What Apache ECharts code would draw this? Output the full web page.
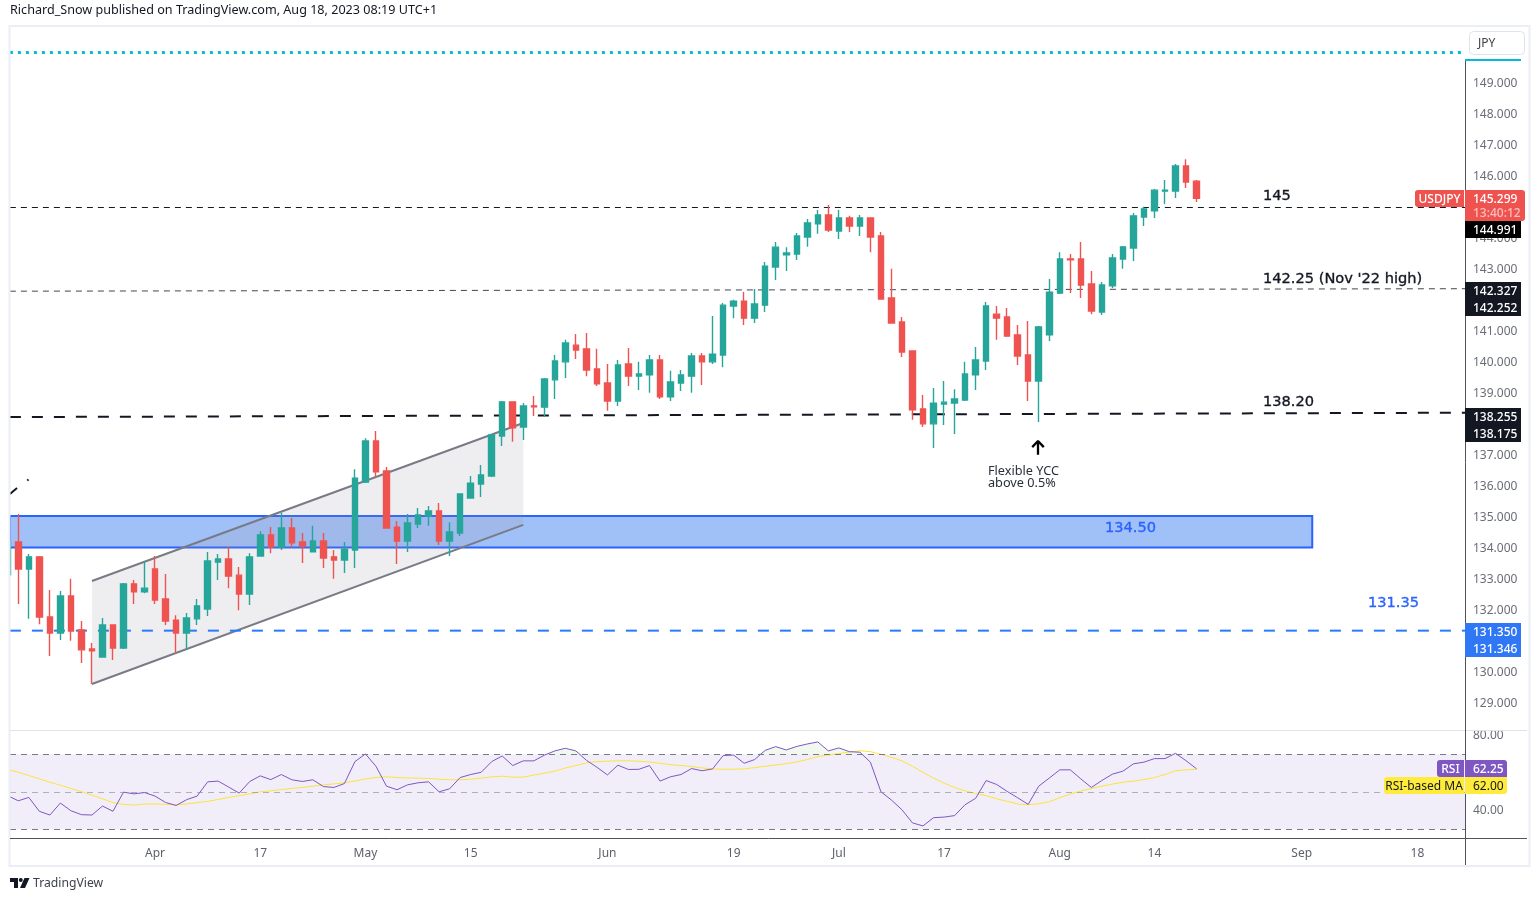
<!DOCTYPE html>
<html>
<head>
<meta charset="utf-8">
<title>USDJPY</title>
<style>
html, body { margin: 0; padding: 0; background: #fff; }
#main { width: 1539px; height: 901px; }
</style>
<script src="https://cdn.jsdelivr.net/npm/echarts@6/dist/echarts.min.js"></script>
</head>
<body>
<div id="main"></div>
<script>
// daily candles, first one is cut off by the left edge of the pane
const opens = [133.15,134.21,133.34,133.73,131.79,131.27,132.47,131.37,130.76,130.50,131.53,130.79,132.86,132.60,133.34,132.37,131.69,131.27,131.73,132.05,133.56,133.66,133.14,132.53,133.76,134.44,134.05,134.66,134.21,133.89,134.24,133.73,133.63,133.95,136.14,137.47,136.50,134.69,134.24,134.79,135.05,135.21,134.24,134.50,135.63,136.08,136.34,137.63,138.73,137.92,138.60,138.56,139.44,140.02,140.56,140.44,139.79,139.34,138.76,139.95,139.56,139.60,140.08,138.89,139.34,139.56,140.21,140.02,140.24,141.82,141.98,141.43,141.85,143.08,143.47,143.50,144.05,144.47,144.76,144.24,144.66,144.40,144.66,144.08,142.08,141.31,140.37,138.50,138.02,138.66,138.69,138.79,139.60,140.05,141.56,141.47,140.89,140.24,139.40,140.89,142.24,143.34,143.34,142.53,141.63,142.47,143.34,143.69,144.69,144.89,145.53,145.53,146.34,145.85]
const closes = [134.21,133.34,133.73,131.79,131.27,132.47,131.34,130.73,130.70,131.53,130.79,132.86,132.60,132.72,132.34,131.66,131.27,131.76,132.15,133.60,133.66,133.11,132.53,133.73,134.44,134.05,134.66,134.18,134.08,134.24,133.69,133.63,133.98,136.27,137.47,136.47,134.66,134.24,134.82,135.08,135.21,134.24,134.53,135.76,136.11,136.37,137.66,138.73,137.89,138.60,138.57,139.47,140.05,140.63,140.40,139.76,139.31,138.76,139.92,139.56,139.63,140.08,138.89,139.37,139.60,140.21,140.02,140.27,141.85,141.98,141.43,141.89,143.11,143.72,143.53,144.08,144.50,144.76,144.27,144.66,144.40,144.66,144.05,142.05,141.27,140.34,138.47,138.02,138.69,138.72,138.82,139.63,140.08,141.82,141.43,140.85,140.21,139.40,141.15,142.27,143.34,143.31,142.50,141.66,142.50,143.37,143.73,144.73,144.95,145.56,145.56,146.34,145.82,145.299]
const lows = [133.10,132.21,131.73,131.56,130.53,131.05,131.02,130.31,129.63,130.50,130.40,130.76,132.21,132.56,132.21,131.53,130.63,130.76,131.53,131.82,132.98,132.72,132.01,132.18,133.73,133.85,133.95,134.02,133.53,133.89,133.37,133.02,133.21,133.37,136.11,136.31,134.66,133.50,133.89,134.66,134.73,134.11,133.76,134.40,135.63,135.66,136.31,137.31,137.44,137.50,138.27,138.24,138.82,139.50,140.11,139.56,139.24,138.44,138.60,139.24,139.11,139.02,138.82,138.76,139.08,139.02,139.27,139.95,139.85,141.43,141.21,141.27,141.63,142.66,142.95,143.31,143.73,144.15,144.21,143.98,144.21,144.08,143.56,142.05,141.27,140.18,138.15,137.92,137.24,137.98,137.69,138.76,139.11,139.76,140.73,140.85,139.92,138.76,138.08,140.69,142.21,142.24,142.08,141.56,141.53,142.40,143.02,143.27,144.40,144.66,145.11,145.31,145.63,145.18]
const highs = [134.30,135.11,133.82,133.76,132.66,132.63,133.02,131.66,130.95,131.76,131.56,132.89,132.98,133.60,133.76,133.18,131.85,131.92,132.37,133.89,133.82,134.05,133.40,133.85,134.56,134.69,135.15,134.98,134.50,134.73,134.50,133.95,134.21,136.56,137.56,137.79,136.63,134.89,135.11,135.31,135.37,135.47,134.85,135.76,136.34,136.69,137.66,138.76,138.73,138.69,138.92,139.50,140.24,140.73,140.92,140.95,140.44,139.95,140.08,140.47,140.02,140.24,140.24,139.73,139.76,140.31,140.31,141.50,141.92,142.02,142.27,142.37,143.24,143.89,143.72,144.18,144.63,144.92,145.08,144.92,144.73,144.76,144.66,144.21,143.02,141.47,140.37,138.95,139.18,139.40,139.14,140.02,140.50,141.95,141.82,141.76,141.21,141.34,141.18,142.69,143.56,143.50,143.89,142.95,142.60,143.50,143.76,144.82,145.02,145.60,145.89,146.40,146.56,145.89]

const rsiValues = [47.9,45.2,47.0,39.6,37.6,44.0,39.9,37.8,37.6,42.4,39.6,49.8,48.9,49.6,47.7,44.3,42.7,45.8,47.7,55.3,55.7,52.5,49.3,55.5,58.5,56.5,59.2,56.4,55.5,56.4,52.8,52.3,54.4,66.1,70.2,63.6,53.0,51.1,53.7,54.8,55.3,50.0,51.6,57.6,59.2,60.4,66.1,69.1,64.0,66.5,66.5,69.5,71.8,73.2,71.8,66.8,63.1,59.0,64.2,61.9,62.0,64.0,55.7,58.0,59.2,62.4,61.2,62.2,69.3,69.6,65.2,67.2,72.1,74.1,72.3,74.2,75.5,76.6,71.8,73.4,71.4,71.1,65.8,50.0,45.6,40.4,33.4,31.8,36.2,36.5,37.3,43.1,46.5,56.0,53.9,50.2,46.8,43.3,53.0,57.3,61.7,61.7,56.9,52.3,56.0,59.4,61.0,64.9,65.8,67.7,67.7,70.5,66.6,62.25]
const rsiMa = [61.9,60.4,58.7,56.9,55.1,53.5,51.8,50.0,48.2,46.3,44.2,43.3,42.9,43.5,43.5,43.3,43.1,43.5,44.2,44.9,45.9,47.0,47.9,48.9,50.0,50.5,51.2,51.8,52.3,53.0,53.7,54.2,54.8,55.7,56.9,57.6,58.0,57.6,57.4,57.3,57.1,56.7,56.4,56.4,56.7,57.3,58.0,58.3,57.8,57.8,58.9,59.9,61.0,62.7,64.0,65.4,66.1,66.3,66.5,66.5,66.3,65.9,65.2,64.5,64.0,63.5,62.7,62.2,62.0,62.0,62.2,62.9,63.6,64.3,65.0,65.9,67.2,68.8,69.6,70.4,71.2,71.9,71.4,70.0,68.4,66.5,63.6,60.4,57.3,54.6,52.3,50.5,49.1,47.9,46.3,44.9,43.5,43.1,43.6,44.7,46.8,48.8,50.4,51.8,53.0,54.1,55.1,55.7,56.5,57.6,59.2,61.2,61.7,62.0]

// axis labels
const priceTicks = [129,130,131,132,133,134,135,136,137,138,139,140,141,142,143,144,145,146,147,148,149]
const rsiTicks = [40,80]
const timeTickIndex = [14,24,34,44,57,69,79,89,100,109,123,134]
const timeTickLabels = ['Apr','17','May','15','Jun','19','Jul','17','Aug','14','Sep','18']

// drawings on the price pane: [bar index, price]
const resistance145 = [[0.2,145.0],[138.6,145.0]]
const level14225 = [[0.2,142.3],[138.6,142.38]]
const level1382 = [[0.2,138.24],[138.6,138.38]]
const level13135 = [[0.2,131.35],[138.6,131.35]]
const topDotted = [[0.2,150],[138.4,150]]
const oldTrend = [[0.2,135.76],[0.88,135.95]]
const oldTrendDot = [[1.86,136.19],[1.96,136.23]]
const ycArrow = [[97.93,137.02],[97.93,137.47],[97.38,137.27],[97.93,137.47],[98.48,137.27]]
const channel = [[8,132.95],[49,138.05],[49,134.76],[8,129.63]]
const demandZone = [[0.2,135.05],[124,134.03]]

// rsi levels
const rsiUpper = 70
const rsiMiddle = 50
const rsiLower = 30

const FONT = '"Noto Sans", sans-serif'
const xMin = 0.211
const xMax = 138.52

let chart = echarts.init(document.getElementById('main'))

let candles = opens.map((o, i) => [i, o, closes[i], lows[i], highs[i]])
let withIndex = arr => arr.map((v, i) => [i, v])

let drawLine = (data, color, width, dash, z) => ({
    type: 'line',
    data: data,
    symbol: 'none',
    silent: true,
    z: z || 3,
    lineStyle: { color: color, width: width, type: dash || 'solid' },
    animation: false
})

let label = (x, y, text, color, font, align) => ({
    type: 'text',
    x: x,
    y: y + 1,
    z: 120,
    silent: true,
    style: { text: text, fill: color, font: font || '12px ' + FONT, align: align || 'left', verticalAlign: 'middle' }
})

// captions next to the levels, a bit heavier than plain text
let caption = (x, y, text, color) => {
    let el = label(x, y, text, color, '14.6px "DejaVu Sans", sans-serif')
    el.style.stroke = color
    el.style.lineWidth = 0.35
    return el
}

let box = (x, y, w, h, fill, r) => ({
    type: 'rect',
    z: 110,
    silent: true,
    shape: { x: x, y: y, width: w, height: h, r: r || 0 },
    style: { fill: fill }
})

let rule = (x1, y1, x2, y2, color, width) => ({
    type: 'line',
    z: 100,
    silent: true,
    shape: { x1: x1, y1: y1, x2: x2, y2: y2 },
    style: { stroke: color, lineWidth: width || 1 }
})

let tagFont = '500 12px ' + FONT

let graphics = [
    // hides what the clipped first candle leaves left of the pane
    { type: 'rect', z: 80, silent: true, shape: { x: 0, y: 28, width: 10, height: 702 }, style: { fill: '#fff' } },

    // frame and separators
    { type: 'rect', z: 90, silent: true, shape: { x: 9.5, y: 26, width: 1520, height: 840 }, style: { fill: 'none', stroke: '#eceef5', lineWidth: 2 } },
    rule(10, 730.5, 1527, 730.5, '#e0e3eb', 1),
    rule(10, 838.5, 1527, 838.5, '#50535e', 1),
    rule(1465.5, 60, 1465.5, 865, '#50535e', 1),
    rule(1465, 60, 1521, 60, '#00bcd4', 2),

    // header and footer
    label(10, 9, 'Richard_Snow published on TradingView.com, Aug 18, 2023 08:19 UTC+1', '#131722', '12.6px ' + FONT),
    label(33, 883, 'TradingView', '#3c3f48', '12.2px ' + FONT),
    { type: 'polygon', z: 100, silent: true, shape: { points: [[10,878],[18,878],[18,888],[14,888],[14,882],[10,882]] }, style: { fill: '#131722' } },
    { type: 'circle', z: 100, silent: true, shape: { cx: 20.8, cy: 880, r: 2 }, style: { fill: '#131722' } },
    { type: 'polygon', z: 100, silent: true, shape: { points: [[24.5,878],[29.5,878],[25,888],[20,888]] }, style: { fill: '#131722' } },

    // currency button
    { type: 'rect', z: 100, silent: true, shape: { x: 1469.5, y: 31.5, width: 55, height: 23, r: 4 }, style: { fill: '#fff', stroke: '#e0e3eb', lineWidth: 1 } },
    label(1478, 43, 'JPY', '#3c3f48'),

    // level captions
    caption(1263, 195, '145', '#131722'),
    caption(1263, 278, "142.25 (Nov '22 high)", '#131722'),
    caption(1263, 401, '138.20', '#131722'),
    caption(1105, 527, '134.50', '#2962ff'),
    caption(1368, 602, '131.35', '#2962ff'),
    label(988, 470, 'Flexible YCC', '#2a2e39', '12.7px ' + FONT),
    label(988, 482, 'above 0.5%', '#2a2e39', '12.7px ' + FONT),

    // price tags on the axis
    box(1415, 190, 49, 17, '#ef5350', [3, 0, 0, 3]),
    label(1439.5, 199, 'USDJPY', '#fff', tagFont, 'center'),
    box(1465, 190, 60, 31, '#ef5350', [0, 3, 3, 0]),
    label(1473, 199, '145.299', '#fff', tagFont),
    label(1473, 213, '13:40:12', '#f9c0be', tagFont),
    box(1465, 221, 56, 17, '#000'),
    label(1473, 230, '144.991', '#fff', tagFont),
    box(1465, 282, 56, 34, '#131722'),
    label(1473, 291, '142.327', '#fff', tagFont),
    label(1473, 308, '142.252', '#fff', tagFont),
    box(1465, 408, 56, 34, '#131722'),
    label(1473, 417, '138.255', '#fff', tagFont),
    label(1473, 434, '138.175', '#fff', tagFont),
    box(1465, 623, 56, 34, '#2f77f5'),
    label(1473, 632, '131.350', '#fff', tagFont),
    label(1473, 649, '131.346', '#fff', tagFont),
    box(1437, 760, 27, 17, '#7e57c2', [3, 0, 0, 3]),
    label(1450.5, 768.5, 'RSI', '#fff', tagFont, 'center'),
    box(1465, 760, 42, 17, '#7e57c2', [0, 3, 0, 0]),
    label(1473, 768.5, '62.25', '#fff', tagFont),
    box(1384, 777, 80, 17, '#ffeb3b', [3, 0, 0, 3]),
    label(1424, 785.5, 'RSI-based MA', '#131722', '12px ' + FONT, 'center'),
    box(1465, 777, 42, 17, '#ffeb3b', [0, 0, 3, 0]),
    label(1473, 785.5, '62.00', '#131722')
]

let option = {
    animation: false,
    backgroundColor: '#fff',
    textStyle: { fontFamily: FONT },
    grid: [
        { left: 10, width: 1455, top: 28, height: 702 },
        { left: 10, width: 1455, top: 731, height: 107 }
    ],
    xAxis: [
        { type: 'value', gridIndex: 0, min: xMin, max: xMax, show: false, splitLine: { show: false } },
        {
            type: 'value', gridIndex: 1, min: xMin, max: xMax,
            axisLine: { show: false },
            axisTick: { show: false },
            splitLine: { show: false },
            axisLabel: {
                customValues: timeTickIndex,
                margin: 10,
                color: '#5d606b',
                fontSize: 12,
                fontFamily: FONT,
                formatter: v => timeTickLabels[timeTickIndex.indexOf(v)]
            }
        }
    ],
    yAxis: [
        {
            type: 'value', gridIndex: 0, position: 'right', min: 128.145, max: 150.79,
            axisLine: { show: false },
            axisTick: { show: false },
            splitLine: { show: false },
            axisLabel: {
                customValues: priceTicks,
                margin: 8,
                padding: [4, 0, 0, 0],
                color: '#6a6d78',
                fontSize: 12,
                fontFamily: FONT,
                formatter: v => v.toFixed(3)
            }
        },
        {
            type: 'value', gridIndex: 1, position: 'right', min: 25.35, max: 82.42,
            axisLine: { show: false },
            axisTick: { show: false },
            splitLine: { show: false },
            axisLabel: {
                customValues: rsiTicks,
                margin: 8,
                padding: [4, 0, 0, 0],
                color: '#6a6d78',
                fontSize: 12,
                fontFamily: FONT,
                formatter: v => v.toFixed(2)
            }
        }
    ],
    graphic: { elements: graphics },
    series: [
        {
            // channel behind the candles
            type: 'custom',
            z: 1,
            silent: true,
            data: channel,
            renderItem: (params, api) => {
                if (params.dataIndex !== 0) return null
                let pts = channel.map(p => api.coord(p))
                return {
                    type: 'group',
                    children: [
                        { type: 'polygon', shape: { points: pts }, style: { fill: 'rgba(149,152,161,0.16)' } },
                        { type: 'line', shape: { x1: pts[0][0], y1: pts[0][1], x2: pts[1][0], y2: pts[1][1] }, style: { stroke: '#787b86', lineWidth: 2 } },
                        { type: 'line', shape: { x1: pts[3][0], y1: pts[3][1], x2: pts[2][0], y2: pts[2][1] }, style: { stroke: '#787b86', lineWidth: 2 } }
                    ]
                }
            }
        },
        {
            type: 'candlestick',
            name: 'USDJPY',
            data: candles,
            encode: { x: 0, y: [1, 2, 3, 4] },
            barWidth: 6,
            z: 4,
            clip: true,
            itemStyle: { color: '#26a69a', color0: '#ef5350', borderColor: '#26a69a', borderColor0: '#ef5350', borderWidth: 1.4 },
            markArea: {
                silent: true,
                z: 1,
                itemStyle: { color: 'rgba(29,105,238,0.42)', borderColor: '#2962ff', borderWidth: 2 },
                data: [[
                    { coord: demandZone[0] },
                    { coord: demandZone[1] }
                ]]
            }
        },
        drawLine(topDotted, '#00bcd4', 3, [3, 5]),
        drawLine(resistance145, '#131722', 1, [6, 5]),
        drawLine(level14225, '#434651', 1, [6, 5]),
        drawLine(level1382, '#131722', 2, [11, 11]),
        drawLine(level13135, '#2979ff', 2, [11, 11]),
        drawLine(oldTrend, '#131722', 2),
        drawLine(oldTrendDot, '#131722', 2),
        drawLine(ycArrow, '#000', 2.3),
        {
            type: 'line',
            xAxisIndex: 1,
            yAxisIndex: 1,
            data: withIndex(rsiValues.map(v => Math.max(v, rsiUpper))),
            symbol: 'none',
            silent: true,
            z: 2,
            lineStyle: { width: 0 },
            areaStyle: { origin: rsiUpper, color: 'rgba(76,175,80,0.12)' }
        },
        {
            type: 'line',
            name: 'RSI-based MA',
            xAxisIndex: 1,
            yAxisIndex: 1,
            data: withIndex(rsiMa),
            symbol: 'none',
            silent: true,
            z: 3,
            lineStyle: { color: '#fbe43a', width: 1 }
        },
        {
            type: 'line',
            name: 'RSI',
            xAxisIndex: 1,
            yAxisIndex: 1,
            data: withIndex(rsiValues),
            symbol: 'none',
            silent: true,
            z: 4,
            lineStyle: { color: '#7e57c2', width: 1 },
            markArea: {
                silent: true,
                z: 1,
                itemStyle: { color: 'rgba(126,87,194,0.1)' },
                data: [[{ yAxis: rsiUpper }, { yAxis: rsiLower }]]
            },
            markLine: {
                silent: true,
                symbol: 'none',
                label: { show: false },
                lineStyle: { color: '#787b86', width: 1, type: [6, 5] },
                data: [
                    { yAxis: rsiUpper },
                    { yAxis: rsiMiddle, lineStyle: { color: 'rgba(120,123,134,0.55)' } },
                    { yAxis: rsiLower }
                ]
            }
        }
    ]
}

chart.setOption(option)
window.addEventListener('resize', () => chart.resize(), false)
</script>
</body>
</html>
